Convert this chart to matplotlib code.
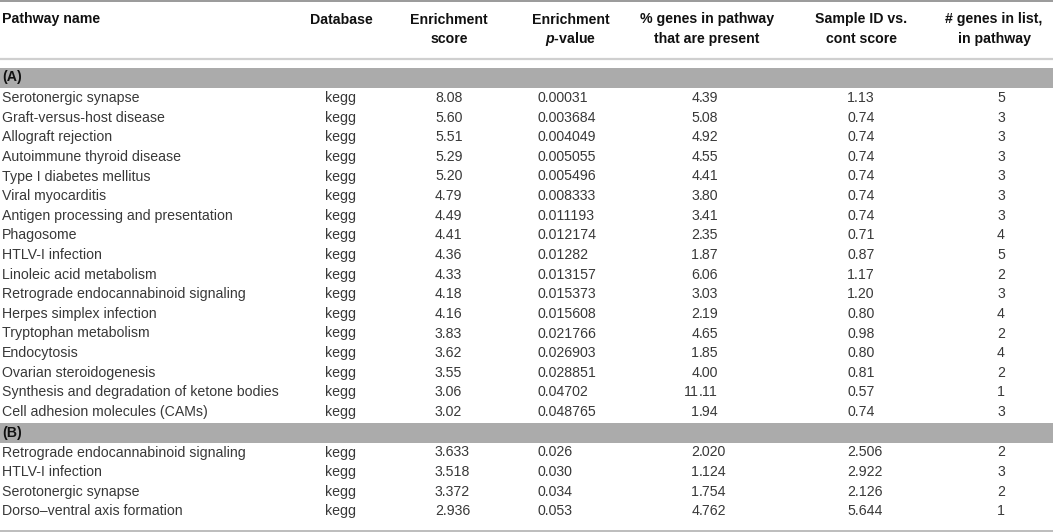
import matplotlib
matplotlib.use("Agg")
import matplotlib.pyplot as plt

plt.rcParams["mathtext.fontset"] = "custom"
plt.rcParams["mathtext.it"] = "Liberation Sans:italic:bold"
plt.rcParams["mathtext.rm"] = "Liberation Sans:bold"
plt.rcParams["mathtext.bf"] = "Liberation Sans:bold"

# ---------------- data ----------------
headers = [
    ["Pathway name"], ["Database"], ["Enrichment", "score"],
    ["Enrichment", "$p$-value"], ["% genes in pathway", "that are present"],
    ["Sample ID vs.", "cont score"], ["# genes in list,", "in pathway"],
]
section_labels = ["(A)", "(B)"]

pathways_a = [
    "Serotonergic synapse", "Graft-versus-host disease", "Allograft rejection",
    "Autoimmune thyroid disease", "Type I diabetes mellitus", "Viral myocarditis",
    "Antigen processing and presentation", "Phagosome", "HTLV-I infection",
    "Linoleic acid metabolism", "Retrograde endocannabinoid signaling",
    "Herpes simplex infection", "Tryptophan metabolism", "Endocytosis",
    "Ovarian steroidogenesis", "Synthesis and degradation of ketone bodies",
    "Cell adhesion molecules (CAMs)",
]
database_a = ["kegg"] * 17
enrich_score_a = ["8.08", "5.60", "5.51", "5.29", "5.20", "4.79", "4.49", "4.41",
                  "4.36", "4.33", "4.18", "4.16", "3.83", "3.62", "3.55", "3.06", "3.02"]
enrich_p_a = ["0.00031", "0.003684", "0.004049", "0.005055", "0.005496", "0.008333",
              "0.011193", "0.012174", "0.01282", "0.013157", "0.015373", "0.015608",
              "0.021766", "0.026903", "0.028851", "0.04702", "0.048765"]
pct_genes_a = ["4.39", "5.08", "4.92", "4.55", "4.41", "3.80", "3.41", "2.35", "1.87",
               "6.06", "3.03", "2.19", "4.65", "1.85", "4.00", "11.11", "1.94"]
sample_score_a = ["1.13", "0.74", "0.74", "0.74", "0.74", "0.74", "0.74", "0.71", "0.87",
                  "1.17", "1.20", "0.80", "0.98", "0.80", "0.81", "0.57", "0.74"]
n_genes_a = ["5", "3", "3", "3", "3", "3", "3", "4", "5", "2", "3", "4", "2", "4", "2", "1", "3"]

pathways_b = ["Retrograde endocannabinoid signaling", "HTLV-I infection",
              "Serotonergic synapse", "Dorso\u2013ventral axis formation"]
database_b = ["kegg"] * 4
enrich_score_b = ["3.633", "3.518", "3.372", "2.936"]
enrich_p_b = ["0.026", "0.030", "0.034", "0.053"]
pct_genes_b = ["2.020", "1.124", "1.754", "4.762"]
sample_score_b = ["2.506", "2.922", "2.126", "5.644"]
n_genes_b = ["2", "3", "2", "1"]

# ---------------- layout ----------------
W, H = 1053, 532
fig = plt.figure(figsize=(W / 100, H / 100), dpi=100)
ax = fig.add_axes([0, 0, 1, 1])
ax.set_xlim(0, W)
ax.set_ylim(H, 0)
ax.axis("off")

FONT = "Liberation Sans"
BODY_FS = 10.2
HEAD_FS = 10.2
BODY_C = "#383838"
HEAD_C = "#111111"
BAND_C = "#ababab"

# header positions
head_x = [2, 341, 449, 571, 707, 861, 994]
head_ha = ["left", "center", "center", "center", "center", "center", "center"]
head_lines_y = [19.5, 39]

for lines, x, ha in zip(headers, head_x, head_ha):
    for txt, y in zip(lines, head_lines_y):
        ax.text(x, y, txt, ha=ha, va="center", fontsize=HEAD_FS, fontweight="bold",
                color=HEAD_C, family=FONT)

# rules
ax.plot([0, W], [0.8, 0.8], color="#9a9a9a", lw=1.4, solid_capstyle="butt")
ax.plot([0, W], [59, 59], color="#cfcfcf", lw=1.6, solid_capstyle="butt")
ax.plot([0, W], [531, 531], color="#bdbdbd", lw=1.4, solid_capstyle="butt")

# column x positions for body
col_name_x = 2
col_db_x = 341
col_score_x = 435
col_p_x = 538
col_pct_dot = 699
col_sample_x = 847
col_n_x = 1001


def draw_row(y, name, db, score, p, pct, sample, n):
    kw = dict(va="center", fontsize=BODY_FS, color=BODY_C, family=FONT)
    ax.text(col_name_x, y, name, ha="left", **kw)
    ax.text(col_db_x, y, db, ha="center", **kw)
    ax.text(col_score_x, y, score, ha="left", **kw)
    ax.text(col_p_x, y, p, ha="left", **kw)
    ip, fp = pct.split(".")
    ax.text(col_pct_dot, y, ip, ha="right", **kw)
    ax.text(col_pct_dot, y, "." + fp, ha="left", **kw)
    ax.text(col_sample_x, y, sample, ha="left", **kw)
    ax.text(col_n_x, y, n, ha="center", **kw)


def draw_band(y0, y1, label):
    ax.fill_between([0, W], y0, y1, color=BAND_C, lw=0)
    ax.text(2, (y0 + y1) / 2, label, ha="left", va="center", fontsize=HEAD_FS,
            fontweight="bold", color=HEAD_C, family=FONT)


# section A
draw_band(67.5, 87.5, section_labels[0])
step = 19.625
y = 98
for row in zip(pathways_a, database_a, enrich_score_a, enrich_p_a, pct_genes_a,
               sample_score_a, n_genes_a):
    draw_row(y, *row)
    y += step

# section B
draw_band(423, 443, section_labels[1])
y = 452.5
for row in zip(pathways_b, database_b, enrich_score_b, enrich_p_b, pct_genes_b,
               sample_score_b, n_genes_b):
    draw_row(y, *row)
    y += step

fig.savefig("out.png", dpi=100, facecolor="white")
